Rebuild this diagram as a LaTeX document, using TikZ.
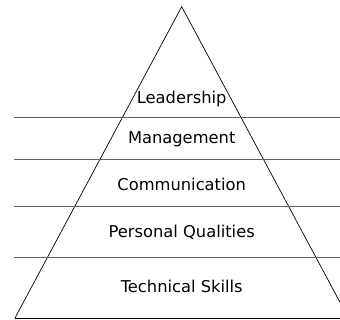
\documentclass[tikz,border=0pt]{standalone}
\usepackage{fontspec}
\setmainfont{DejaVu Sans}
\begin{document}
\begin{tikzpicture}[x=1pt,y=-1pt,
  lbl/.style={anchor=base,inner sep=0pt,font=\fontsize{16.3}{19}\selectfont},
  sep/.style={draw=black!62,line width=0.9pt},
  tri/.style={draw=black,line width=0.7pt}]
\useasboundingbox (0,0) rectangle (340,320);
\fill[white] (0,0) rectangle (340,320);
\begin{scope}
\clip (0,0) rectangle (340,320);
\coordinate (apex) at (181.7,6.7);
\coordinate (bl) at (15,318);
\coordinate (br) at (348.4,318);
\draw[tri] (bl) -- (apex) -- (br);
\draw[tri] (bl) -- (br);
\coordinate (l1) at (14,117.7); \coordinate (r1) at (340,117.7);
\coordinate (l2) at (14,159.7); \coordinate (r2) at (340,159.7);
\coordinate (l3) at (14,206.3); \coordinate (r3) at (340,206.3);
\coordinate (l4) at (14,257.7); \coordinate (r4) at (340,257.7);
\draw[sep] (l1) -- (r1);
\draw[sep] (l2) -- (r2);
\draw[sep] (l3) -- (r3);
\draw[sep] (l4) -- (r4);
\end{scope}
\node[lbl] (lead) at (181.7,104) {Leadership};
\node[lbl] (mgmt) at (181.7,144) {Management};
\node[lbl] (comm) at (181.7,190.7) {Communication};
\node[lbl] (pers) at (181.7,237.3) {Personal Qualities};
\node[lbl] (tech) at (181.7,292.3) {Technical Skills};
\end{tikzpicture}
\end{document}
